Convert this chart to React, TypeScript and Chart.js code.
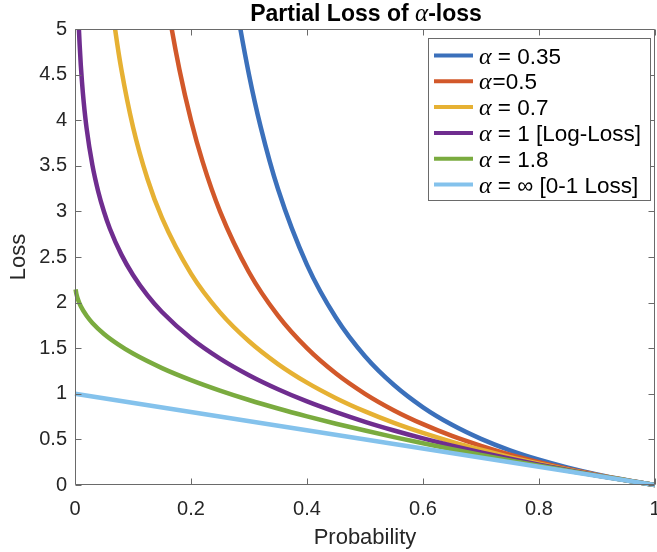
import React, { useEffect, useRef } from "react";
import { Chart, registerables } from "chart.js";

Chart.register(...registerables);

// ---------- data ----------
const seriesLabels = ["= 0.35", "=0.5", "= 0.7", "= 1 [Log-Loss]", "= 1.8", "= \u221E [0-1 Loss]"];
const seriesColors = ["#3b70bb", "#d2582a", "#e6b133", "#6f2d8f", "#7aab3f", "#84c2ec"];

const pBlue = [0.25, 0.27, 0.28, 0.3, 0.32, 0.35, 0.4, 0.45, 0.5, 0.55, 0.6, 0.65, 0.7, 0.75, 0.8, 0.85, 0.9, 0.95, 1];
const lossBlue = [6.528, 5.588, 5.188, 4.499, 3.93, 3.245, 2.414, 1.834, 1.412, 1.096, 0.852, 0.66, 0.506, 0.38, 0.277, 0.19, 0.116, 0.054, 0];

const pOrange = [0.15, 0.16, 0.18, 0.2, 0.22, 0.25, 0.3, 0.35, 0.4, 0.45, 0.5, 0.55, 0.6, 0.65, 0.7, 0.75, 0.8, 0.85, 0.9, 0.95, 1];
const lossOrange = [5.667, 5.25, 4.556, 4.0, 3.545, 3.0, 2.333, 1.857, 1.5, 1.222, 1.0, 0.818, 0.667, 0.538, 0.429, 0.333, 0.25, 0.176, 0.111, 0.053, 0];

const pYellow = [0.06, 0.07, 0.08, 0.1, 0.125, 0.15, 0.2, 0.25, 0.3, 0.35, 0.4, 0.45, 0.5, 0.55, 0.6, 0.65, 0.7, 0.75, 0.8, 0.85, 0.9, 0.95, 1];
const lossYellow = [5.458, 4.96, 4.554, 3.926, 3.355, 2.928, 2.318, 1.893, 1.576, 1.326, 1.122, 0.952, 0.807, 0.681, 0.571, 0.473, 0.386, 0.306, 0.234, 0.168, 0.108, 0.052, 0];

const pPurple = [0.005, 0.006, 0.007, 0.008, 0.01, 0.012, 0.015, 0.02, 0.03, 0.04, 0.05, 0.06, 0.08, 0.1, 0.125, 0.15, 0.2, 0.25, 0.3, 0.35, 0.4, 0.45, 0.5, 0.55, 0.6, 0.65, 0.7, 0.75, 0.8, 0.85, 0.9, 0.95, 1];
const lossPurple = [5.298, 5.116, 4.962, 4.828, 4.605, 4.423, 4.2, 3.912, 3.507, 3.219, 2.996, 2.813, 2.526, 2.303, 2.079, 1.897, 1.609, 1.386, 1.204, 1.05, 0.916, 0.799, 0.693, 0.598, 0.511, 0.431, 0.357, 0.288, 0.223, 0.163, 0.105, 0.051, 0];

const pGreen = [0.001, 0.002, 0.003, 0.005, 0.01, 0.02, 0.03, 0.05, 0.075, 0.1, 0.15, 0.2, 0.25, 0.3, 0.35, 0.4, 0.45, 0.5, 0.55, 0.6, 0.65, 0.7, 0.75, 0.8, 0.85, 0.9, 0.95, 1];
const lossGreen = [2.146, 2.108, 2.08, 2.037, 1.959, 1.855, 1.777, 1.656, 1.539, 1.441, 1.282, 1.15, 1.035, 0.932, 0.839, 0.753, 0.672, 0.597, 0.525, 0.457, 0.392, 0.33, 0.27, 0.212, 0.157, 0.103, 0.051, 0];

const pLight = [0, 1];
const lossLight = [1, 0];

const xTickLabels = ["0", "0.2", "0.4", "0.6", "0.8", "1"];
const yTickLabels = ["0", "0.5", "1", "1.5", "2", "2.5", "3", "3.5", "4", "4.5", "5"];

const titleParts = ["Partial Loss of ", "\u03B1", "-loss"];
const xAxisTitle = "Probability";
const yAxisTitle = "Loss";

// ---------- styling ----------
const SANS = "'Liberation Sans', Arial, Helvetica, sans-serif";
const SERIF = "'Liberation Serif', 'DejaVu Serif', serif";
const TEXT = "#262626";
const AXIS = "#6a6a6a";

const pairs = (xs: number[], ys: number[]) => xs.map((x, i) => ({ x, y: ys[i] }));

const allSeries = [
  pairs(pBlue, lossBlue),
  pairs(pOrange, lossOrange),
  pairs(pYellow, lossYellow),
  pairs(pPurple, lossPurple),
  pairs(pGreen, lossGreen),
  pairs(pLight, lossLight),
];

const framePlugin = {
  id: "frame",
  afterDatasetsDraw(chart: any) {
    const { ctx, chartArea: a, scales } = chart;
    const L = Math.round(a.left) + 0.5;
    const R = Math.round(a.right) - 0.5;
    const T = Math.round(a.top) + 0.5;
    const B = Math.round(a.bottom) - 0.5;
    ctx.save();
    ctx.strokeStyle = AXIS;
    ctx.lineWidth = 1;
    ctx.beginPath();
    ctx.rect(L, T, R - L, B - T);
    ctx.stroke();
    const tl = 6;
    ctx.beginPath();
    for (let i = 0; i < xTickLabels.length; i++) {
      const v = parseFloat(xTickLabels[i]);
      const px = Math.round(scales.x.getPixelForValue(v)) + 0.5;
      ctx.moveTo(px, B);
      ctx.lineTo(px, B - tl);
      ctx.moveTo(px, T);
      ctx.lineTo(px, T + tl);
    }
    for (let i = 0; i < yTickLabels.length; i++) {
      const v = parseFloat(yTickLabels[i]);
      const py = Math.round(scales.y.getPixelForValue(v)) + 0.5;
      ctx.moveTo(L, py);
      ctx.lineTo(L + tl, py);
      ctx.moveTo(R, py);
      ctx.lineTo(R - tl, py);
    }
    ctx.stroke();
    ctx.restore();
  },
};

const titlePlugin = {
  id: "mtitle",
  afterDraw(chart: any) {
    const { ctx } = chart;
    ctx.save();
    const fonts = [`bold 23px ${SANS}`, `italic 25px ${SERIF}`, `bold 23px ${SANS}`];
    let total = 0;
    const widths = titleParts.map((t, i) => {
      ctx.font = fonts[i];
      const w = ctx.measureText(t).width;
      total += w;
      return w;
    });
    let x = 366 - total / 2;
    ctx.fillStyle = "#000";
    ctx.textBaseline = "alphabetic";
    ctx.textAlign = "left";
    titleParts.forEach((t, i) => {
      ctx.font = fonts[i];
      ctx.fillText(t, x, 21);
      x += widths[i];
    });
    ctx.restore();
  },
};

const legendPlugin = {
  id: "mlegend",
  afterDraw(chart: any) {
    const { ctx } = chart;
    ctx.save();
    ctx.fillStyle = "#fff";
    ctx.fillRect(428.5, 38.5, 222, 162);
    ctx.strokeStyle = AXIS;
    ctx.lineWidth = 1;
    ctx.strokeRect(428.5, 38.5, 222, 162);
    const datasets = chart.data.datasets;
    datasets.forEach((ds: any, i: number) => {
      const cy = 55.5 + i * 25.8;
      ctx.strokeStyle = ds.borderColor;
      ctx.lineWidth = 4;
      ctx.lineCap = "butt";
      ctx.beginPath();
      ctx.moveTo(434, cy);
      ctx.lineTo(473, cy);
      ctx.stroke();
      ctx.fillStyle = "#000";
      ctx.textBaseline = "alphabetic";
      ctx.textAlign = "left";
      ctx.font = `italic 24px ${SERIF}`;
      ctx.fillText("\u03B1", 479, cy + 8);
      const aw = ctx.measureText("\u03B1").width;
      ctx.font = `22.5px ${SANS}`;
      const spaced = ds.label.startsWith("= ");
      const txt = spaced ? " " + ds.label : ds.label;
      ctx.fillText(txt, 479 + aw + (spaced ? 0 : 1), cy + 8);
    });
    ctx.restore();
  },
};

export default function App() {
  const ref = useRef<HTMLCanvasElement>(null);
  useEffect(() => {
    if (!ref.current) return;
    Chart.defaults.font.family = SANS;
    Chart.defaults.color = TEXT;
    const chart = new Chart(ref.current, {
      type: "line",
      data: {
        datasets: allSeries.map((d, i) => ({
          label: seriesLabels[i],
          data: d,
          borderColor: seriesColors[i],
          backgroundColor: seriesColors[i],
          borderWidth: 4.5,
          pointRadius: 0,
          fill: false,
          cubicInterpolationMode: "monotone" as const,
          order: 6 - i,
          clip: { left: 4, right: 4, top: 0, bottom: 4 },
        })),
      },
      options: {
        responsive: false,
        animation: false,
        devicePixelRatio: 1,
        layout: { padding: { top: 29, right: 2, left: 0, bottom: 0 } },
        plugins: { legend: { display: false }, title: { display: false }, tooltip: { enabled: false } },
        events: [],
        scales: {
          x: {
            type: "linear",
            min: 0,
            max: 1,
            grid: { display: false, drawTicks: false },
            border: { display: false },
            ticks: {
              stepSize: 0.2,
              padding: 12,
              color: TEXT,
              font: { size: 20 },
              maxRotation: 0,
              callback: (_v: any, i: number) => xTickLabels[i],
            },
            title: { display: true, text: xAxisTitle, color: TEXT, font: { size: 22 }, padding: { top: 0, bottom: 1 } },
            afterFit: (s: any) => {
              s.height = 67;
              s.paddingLeft = 0;
              s.paddingRight = 0;
            },
          },
          y: {
            type: "linear",
            min: 0,
            max: 5,
            grid: { display: false, drawTicks: false },
            border: { display: false },
            ticks: {
              stepSize: 0.5,
              padding: 8,
              color: TEXT,
              font: { size: 20 },
              callback: (_v: any, i: number) => yTickLabels[i],
            },
            title: { display: true, text: yAxisTitle, color: TEXT, font: { size: 22 }, padding: { top: 6, bottom: 0 } },
            afterFit: (s: any) => {
              s.width = 75;
              s.paddingTop = 0;
              s.paddingBottom = 0;
            },
          },
        },
      },
      plugins: [framePlugin, legendPlugin, titlePlugin],
    } as any);
    return () => chart.destroy();
  }, []);
  return (
    <div style={{ position: "fixed", left: 0, top: 0, width: 657, height: 552, background: "#fff" }}>
      <canvas ref={ref} width={657} height={552} style={{ display: "block", width: 657, height: 552 }} />
    </div>
  );
}
